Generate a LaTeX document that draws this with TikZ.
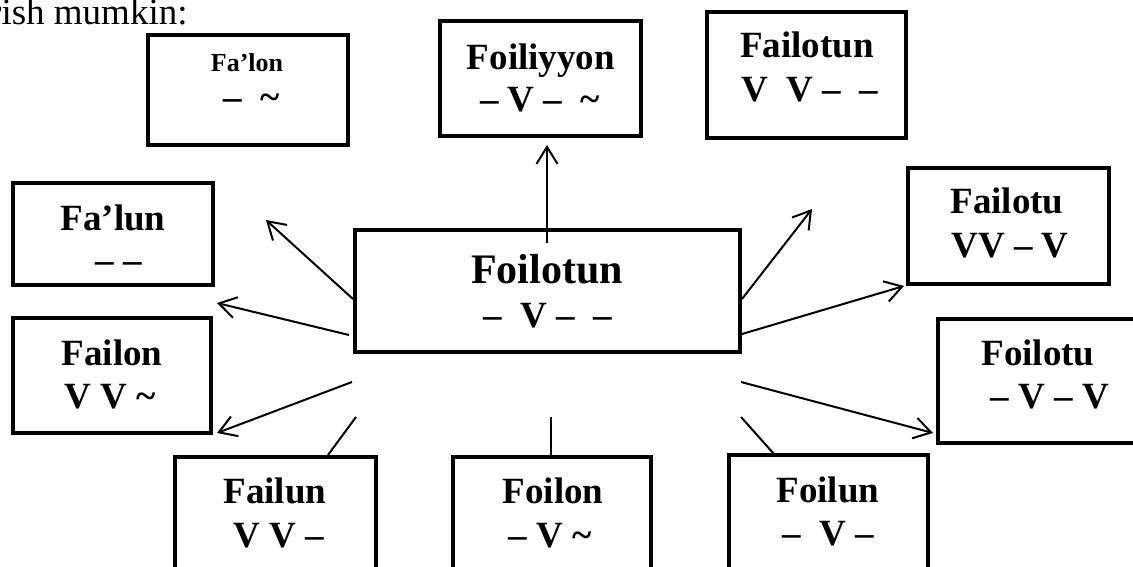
\documentclass[tikz,border=0pt]{standalone}
\usepackage{fontspec}
\setmainfont{Liberation Serif}
\usetikzlibrary{arrows.meta}
\newcommand{\myfs}[1]{\fontsize{#1}{#1}\selectfont}
\begin{document}
\begin{tikzpicture}[x=1pt,y=-1pt,
  box/.style={draw, line width=4pt, inner sep=0pt, rectangle},
  ttl/.style={anchor=base, inner sep=0pt, font=\bfseries\myfs{37}},
  sub/.style={anchor=base, inner sep=0pt, font=\bfseries\myfs{37}},
  conn/.style={line width=2pt},
  arr/.style={conn, -{Straight Barb[length=17pt,width=21pt]}}]
\useasboundingbox (0,0) rectangle (1133,567);
% intro text
\node[anchor=base west, inner sep=0pt, font=\myfs{37}] (intro) at (-11,25) {rish mumkin:};
% boxes
\node[box, minimum width=200pt, minimum height=110pt] (falon) at (248,90) {};
\node[box, minimum width=201pt, minimum height=115pt] (foiliyyon) at (540.5,78.5) {};
\node[box, minimum width=199pt, minimum height=126pt] (failotun) at (806.5,75) {};
\node[box, minimum width=201pt, minimum height=116pt] (failotu) at (1008.5,226) {};
\node[box, minimum width=200pt, minimum height=102pt] (falun) at (113,234) {};
\node[box, minimum width=198pt, minimum height=115pt] (failon) at (112,375.5) {};
\node[box, minimum width=385pt, minimum height=122pt] (center) at (547.5,291) {};
\node[box, minimum width=262pt, minimum height=124pt] (foilotu) at (1069,381) {};
\node[box, minimum width=201pt, minimum height=163pt] (failun) at (275.5,538.5) {};
\node[box, minimum width=198pt, minimum height=163pt] (foilon) at (552,538.5) {};
\node[box, minimum width=199pt, minimum height=165pt] (foilun) at (828.5,537.5) {};
% texts
\node[anchor=base, inner sep=0pt, font=\bfseries\myfs{26}] (t1) at (247,72) {Fa’lon};
\node[sub] (s1) at (252,110) {–\ \ \textasciitilde};
\node[ttl] (t2) at (541,70) {Foiliyyon};
\node[sub] (s2) at (540,112) {– V –\ \ \textasciitilde};
\node[ttl] (t3) at (807,58) {Failotun};
\node[sub] (s3) at (810,102) {V\ \ V –\ \ –};
\node[ttl] (t4) at (1007,213) {Failotu};
\node[sub] (s4) at (1010,257) {VV – V};
\node[ttl] (t5) at (113,230) {Fa’lun};
\node[sub] (s5) at (119,272) {– –};
\node[ttl] (t6) at (112,365) {Failon};
\node[sub] (s6) at (110,408) {V V \textasciitilde};
\node[anchor=base, inner sep=0pt, font=\bfseries\myfs{42}] (t7) at (547,283) {Foilotun};
\node[sub] (s7) at (548,327) {–\ \ V –\ \ –};
\node[ttl] (t8) at (1038,365) {Foilotu};
\node[sub] (s8) at (1050,408) {– V – V};
\node[ttl] (t9) at (828,502) {Foilun};
\node[sub] (s9) at (828,545) {–\ \ V –};
\node[ttl] (t10) at (275,503) {Failun};
\node[sub] (s10) at (279,547) {V V –};
\node[ttl] (t11) at (553,503) {Foilon};
\node[sub] (s11) at (550,547) {– V \textasciitilde};
% connector end points
\coordinate (aUp0) at (547,243);   \coordinate (aUp1) at (547,145);
\coordinate (aFl0) at (353,299);   \coordinate (aFl1) at (266,220);
\coordinate (aFn0) at (349,335);   \coordinate (aFn1) at (217,303);
\coordinate (aFc0) at (352,382);   \coordinate (aFc1) at (217,433);
\coordinate (lA0) at (356,417);    \coordinate (lA1) at (328,455);
\coordinate (lB0) at (551,417);    \coordinate (lB1) at (551,456);
\coordinate (lC0) at (741,417);    \coordinate (lC1) at (774,454);
\coordinate (aRb0) at (741,382);   \coordinate (aRb1) at (933,433);
\coordinate (aRm0) at (742,334);   \coordinate (aRm1) at (904,286);
\coordinate (aRt0) at (742,299);   \coordinate (aRt1) at (812,209);
% connectors
\draw[arr] (aUp0) -- (aUp1);
\draw[arr] (aFl0) -- (aFl1);
\draw[arr] (aFn0) -- (aFn1);
\draw[arr] (aFc0) -- (aFc1);
\draw[conn] (lA0) -- (lA1);
\draw[conn] (lB0) -- (lB1);
\draw[conn] (lC0) -- (lC1);
\draw[arr] (aRb0) -- (aRb1);
\draw[arr] (aRm0) -- (aRm1);
\draw[arr] (aRt0) -- (aRt1);
\end{tikzpicture}
\end{document}
